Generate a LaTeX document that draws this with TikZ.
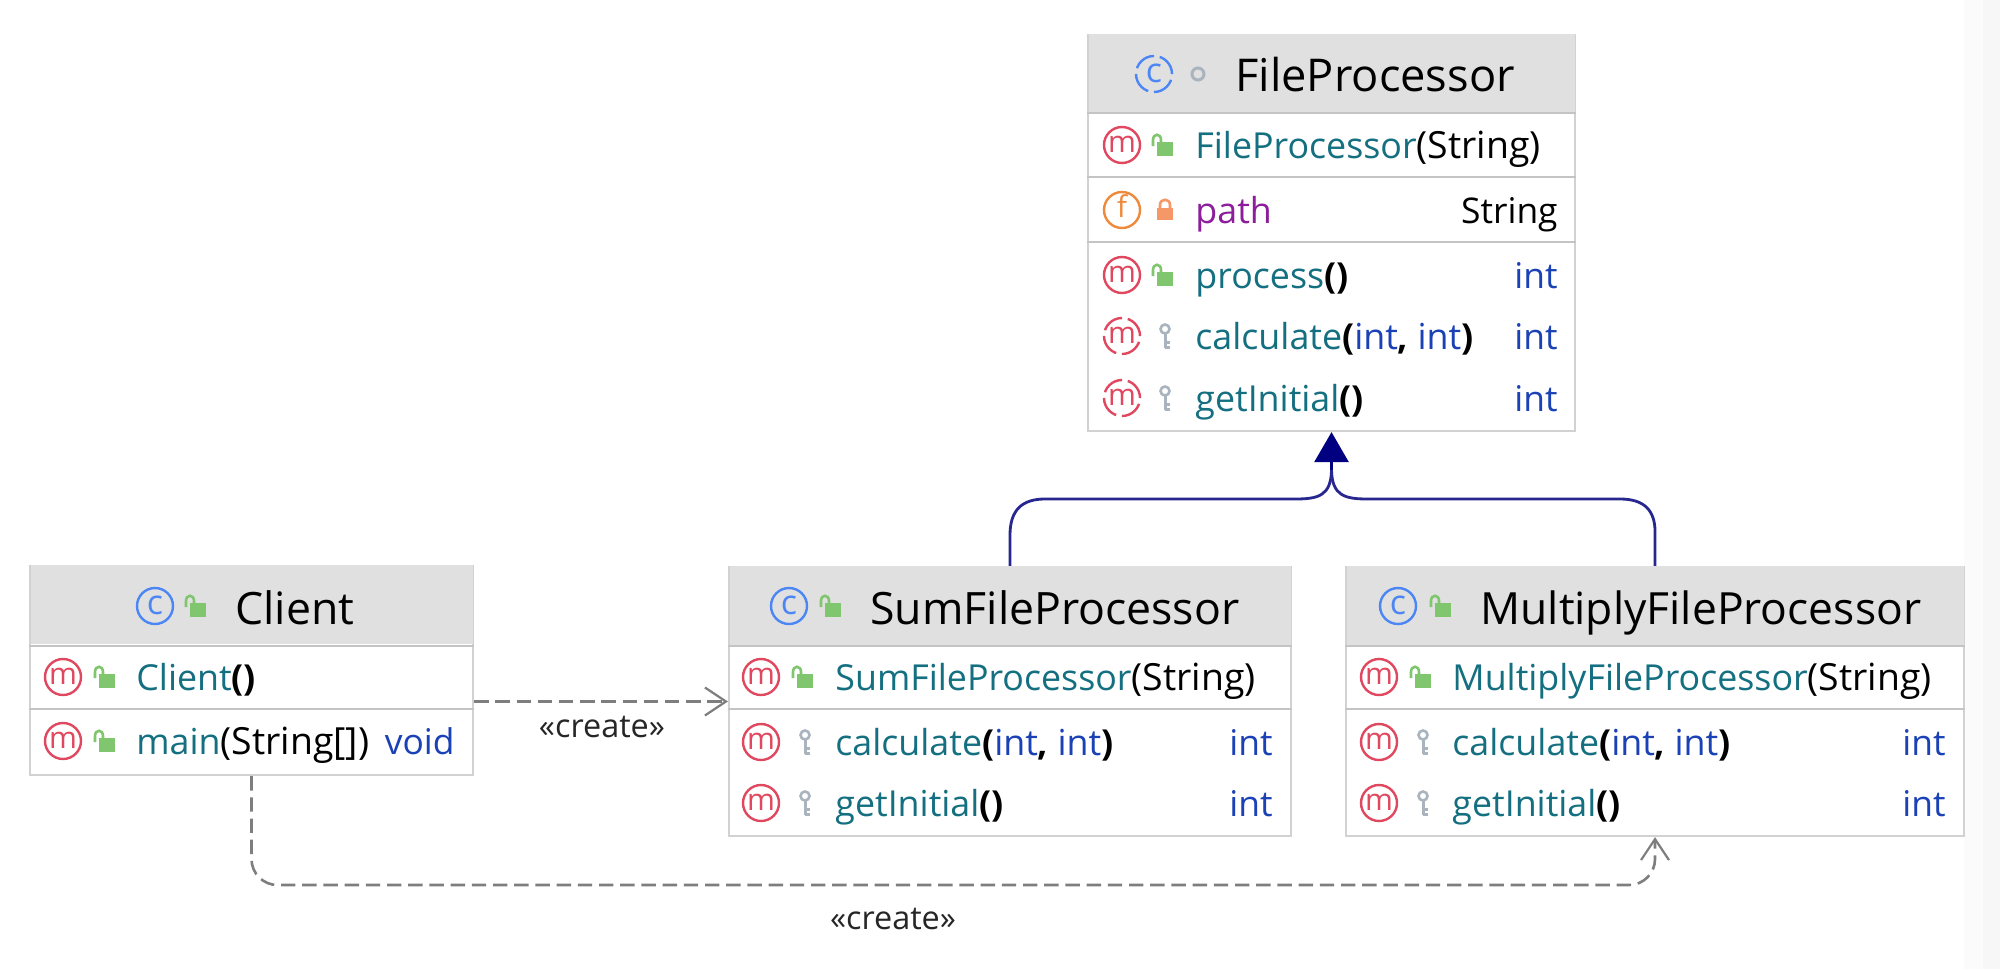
\documentclass[tikz,border=0pt]{standalone}
\usepackage{fontspec}
\setmainfont{Open Sans}
\usetikzlibrary{arrows.meta,calc}
\definecolor{bordercol}{HTML}{D2D2D2}
\definecolor{sepcol}{HTML}{C4C4C4}
\definecolor{headcol}{HTML}{E0E0E0}
\definecolor{teal}{HTML}{146F80}
\definecolor{kwblue}{HTML}{1A41B5}
\definecolor{fieldpurple}{HTML}{8C1E9C}
\definecolor{mred}{HTML}{E0485F}
\definecolor{forange}{HTML}{EE8A3C}
\definecolor{cblue}{HTML}{4C86F5}
\definecolor{lockgreen}{HTML}{80C66F}
\definecolor{lockorange}{HTML}{F59766}
\definecolor{keygray}{HTML}{A9B4BE}
\definecolor{inhline}{HTML}{27278F}
\definecolor{inhhead}{HTML}{000080}
\definecolor{dashgray}{HTML}{7E7E7E}
\tikzset{
  x=0.5pt,y=-0.5pt,
  classbox/.style={draw=bordercol,line width=1.1pt,fill=white,inner sep=0pt},
  headbox/.style={draw=none,fill=headcol,inner sep=0pt,anchor=north,minimum height=39.5pt},
  sepline/.style={draw=sepcol,line width=1.1pt},
  titletext/.style={anchor=base west,inner sep=0pt,font=\fontsize{22.3}{26}\selectfont,text=black},
  rowtext/.style={anchor=base west,inner sep=0pt,font=\fontsize{17.9}{22}\selectfont},
  righttext/.style={anchor=base east,inner sep=0pt,font=\fontsize{17.7}{22}\selectfont},
  roundicon/.style={circle,inner sep=0pt,minimum size=18pt,line width=1.2pt,font=\fontsize{15}{15}\selectfont,text height=7.5pt,text depth=0pt},
  micon/.style={roundicon,draw=mred,text=mred},
  miconabs/.style={micon,dash pattern=on 11.2pt off 2.9pt},
  ficon/.style={roundicon,draw=forange,text=forange},
  cicon/.style={roundicon,draw=cblue,text=cblue,font=\fontsize{17}{17}\selectfont,text height=8pt},
  ciconabs/.style={cicon,dash pattern=on 11.2pt off 2.9pt},
  dotring/.style={circle,draw=keygray,line width=1.5pt,inner sep=0pt,minimum size=6pt},
  labeltext/.style={inner sep=0pt,font=\fontsize{16.2}{18}\selectfont,text=black!85},
  inhline/.style={draw=inhline,line width=1.4pt},
  inharrow/.style={draw=inhhead,line width=1.4pt,-{Triangle[length=15pt,width=17pt,fill=inhhead]}},
  depline/.style={draw=dashgray,line width=1.3pt,dash pattern=on 7.2pt off 3.4pt,-{Straight Barb[length=10.5pt,width=14pt,line width=1.1pt]}},
  openlock/.pic={
    \fill[lockgreen] (-6,-3) rectangle (10,11);
    \draw[lockgreen,line width=1.3pt] (-10,1) -- (-10,-5) .. controls (-10,-12) and (-2,-12) .. (-2,-5) -- (-2,-2);
  },
  closedlock/.pic={
    \fill[lockorange] (-8,-2) rectangle (8,10);
    \draw[lockorange,line width=1.3pt] (-5,-2) -- (-5,-5) .. controls (-5,-12) and (5,-12) .. (5,-5) -- (5,-2);
  },
  keylock/.pic={
    \draw[keygray,line width=1.3pt] (0,-7) circle[radius=4.5];
    \draw[keygray,line width=1.5pt] (0,-3) -- (0,12) (0,6) -- (5,6) (0,11) -- (5,11);
  },
}
\newcommand{\nm}[1]{\textcolor{teal}{#1}}
\newcommand{\kw}[1]{\textcolor{kwblue}{#1}}
\newcommand{\pa}[1]{\textbf{\textcolor{black}{#1}}}
\newcommand{\wider}[1]{{\fontsize{18.7}{22}\selectfont\textcolor{black}{#1}}}
% #1 id, #2 y, #3 icon style, #4 letter, #5 lock pic, #6 lock x, #7 text, #8 right text
\newcommand{\classrow}[8]{%
  \node[#3] (#1i) at (\mx,#2) {#4};
  \pic at (#6,#2) {#5};
  \node[rowtext] (#1t) at (\tx,#2+13.5) {#7};
  \node[righttext] (#1r) at (\rx,#2+13.5) {#8};
}
\begin{document}
\begin{tikzpicture}
\useasboundingbox (0,0) rectangle (2000,969);
\fill[white] (0,0) rectangle (2000,969);
\fill[black!1.5] (1964,0) rectangle (1983,969);
\fill[black!3] (1983,0) rectangle (2000,969);

% FileProcessor
\node[classbox,minimum width=243.5pt,minimum height=198pt] (file) at (1331.5,233) {};
\node[headbox,minimum width=243pt,minimum height=39pt] (fileh) at (file.north) {};
\draw[sepline] (file.west |- 0,113) -- (file.east |- 0,113);
\draw[sepline] (file.west |- 0,177) -- (file.east |- 0,177);
\draw[sepline] (file.west |- 0,242) -- (file.east |- 0,242);
\node[ciconabs] (filec) at (1154,74) {c};
\node[dotring] (filed) at (1198,74) {};
\node[titletext,font=\fontsize{22.6}{26}\selectfont] (filetitle) at (1235,91) {FileProcessor};
\def\mx{1122}\def\tx{1195}\def\rx{1558}
\classrow{fa}{145}{micon}{m}{openlock}{1163}{\nm{FileProcessor}\wider{(String)}}{}
\classrow{fb}{210}{ficon}{f}{closedlock}{1165}{\textcolor{fieldpurple}{path}}{String}
\classrow{fc}{275}{micon}{m}{openlock}{1163}{\nm{process}\pa{()}}{\kw{int}}
\classrow{fd}{336}{miconabs}{m}{keylock}{1165}{\nm{calculate}\pa{(}\kw{int}\pa{,} \kw{int}\pa{)}}{\kw{int}}
\classrow{fe}{398}{miconabs}{m}{keylock}{1165}{\nm{getInitial}\pa{()}}{\kw{int}}

% Client
\node[classbox,minimum width=221.5pt,minimum height=104.5pt] (client) at (251.5,670.5) {};
\node[headbox,minimum width=221pt,minimum height=39.5pt] (clienth) at (client.north) {};
\draw[sepline] (client.west |- 0,646) -- (client.east |- 0,646);
\draw[sepline] (client.west |- 0,709) -- (client.east |- 0,709);
\node[cicon] (clientc) at (155,606) {c};
\pic at (196,606) {openlock};
\node[titletext] (clienttitle) at (235,624) {Client};
\def\mx{63}\def\tx{136}\def\rx{455}
\classrow{ca}{677}{micon}{m}{openlock}{105}{\nm{Client}\pa{()}}{}
\classrow{cb}{741}{micon}{m}{openlock}{105}{\nm{main}\wider{(String[])}}{\kw{void}}

% SumFileProcessor
\node[classbox,minimum width=281pt,minimum height=134.5pt] (sum) at (1010,701.5) {};
\node[headbox,minimum width=280.5pt,minimum height=39.5pt] (sumh) at (sum.north) {};
\draw[sepline] (sum.west |- 0,646) -- (sum.east |- 0,646);
\draw[sepline] (sum.west |- 0,709) -- (sum.east |- 0,709);
\node[cicon] (sumc) at (789,606) {c};
\pic at (831,606) {openlock};
\node[titletext] (sumtitle) at (870,624) {SumFileProcessor};
\def\mx{761}\def\tx{835}\def\rx{1273}
\classrow{sa}{677}{micon}{m}{openlock}{803}{\nm{SumFileProcessor}\wider{(String)}}{}
\classrow{sb}{742}{micon}{m}{keylock}{805}{\nm{calculate}\pa{(}\kw{int}\pa{,} \kw{int}\pa{)}}{\kw{int}}
\classrow{sc}{803}{micon}{m}{keylock}{805}{\nm{getInitial}\pa{()}}{\kw{int}}

% MultiplyFileProcessor
\node[classbox,minimum width=309pt,minimum height=134.5pt] (multi) at (1655,701.5) {};
\node[headbox,minimum width=308.5pt,minimum height=39.5pt] (multih) at (multi.north) {};
\draw[sepline] (multi.west |- 0,646) -- (multi.east |- 0,646);
\draw[sepline] (multi.west |- 0,709) -- (multi.east |- 0,709);
\node[cicon] (multic) at (1398,606) {c};
\pic at (1441,606) {openlock};
\node[titletext,font=\fontsize{22.2}{26}\selectfont] (multititle) at (1480,624) {MultiplyFileProcessor};
\def\mx{1379}\def\tx{1452}\def\rx{1946}
\classrow{ma}{677}{micon}{m}{openlock}{1421}{\nm{MultiplyFileProcessor}\wider{(String)}}{}
\classrow{mb}{742}{micon}{m}{keylock}{1423}{\nm{calculate}\pa{(}\kw{int}\pa{,} \kw{int}\pa{)}}{\kw{int}}
\classrow{mc}{803}{micon}{m}{keylock}{1423}{\nm{getInitial}\pa{()}}{\kw{int}}

% Inheritance connectors
\coordinate (join) at (file.south |- 0,470);
\draw[inhline] (sum.north) -- (sum.north |- 0,535) .. controls (1010,510) and (1022,499) .. (1045,499) -- (1295,499) .. controls (1318,499) and (1331,496) .. (join);
\draw[inhline] (multi.north) -- (multi.north |- 0,535) .. controls (1656,510) and (1644,499) .. (1620,499) -- (1368,499) .. controls (1345,499) and (1332,496) .. (join);
\draw[inharrow] (join) -- (file.south);

% Dependency connectors
\draw[depline] (client.east |- sum.west) -- (sum.west);
\node[labeltext] (create1) at (602,727) {«create»};
\draw[depline,rounded corners=13pt] (client.south) -- (client.south |- 0,885) -- (multi.south |- 0,885) -- (multi.south);
\node[labeltext] (create2) at (893,919) {«create»};
\end{tikzpicture}
\end{document}
